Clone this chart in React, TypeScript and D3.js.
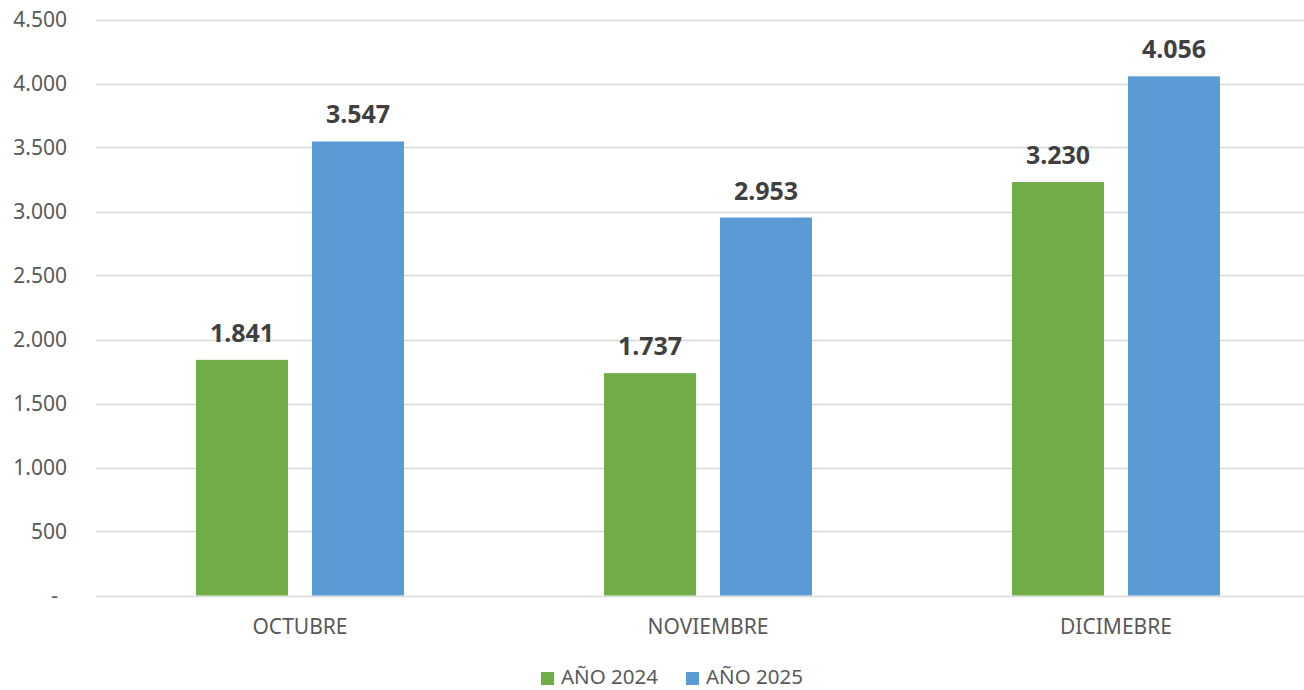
import React from "react";
import * as d3 from "d3";

const categories = ["OCTUBRE", "NOVIEMBRE", "DICIMEBRE"];
const seriesNames = ["AÑO 2024", "AÑO 2025"];
const values2024 = [1841, 1737, 3230];
const values2025 = [3547, 2953, 4056];
const yTicks = [0, 500, 1000, 1500, 2000, 2500, 3000, 3500, 4000, 4500];
const colors = ["#70AD47", "#5B9BD5"];

const W = 1304;
const H = 690;
const fmt = (v: number) => (v === 0 ? "-" : d3.format(",")(v).replace(/,/g, "."));

export default function App() {
  const left = 96;
  const right = 1320;
  const top = 19.5;
  const bottom = 595.5;
  const x0 = d3.scaleBand<string>().domain(categories).range([left, right]).padding(0);
  const groupW = 208;
  const x1 = d3
    .scaleBand<string>()
    .domain(seriesNames)
    .range([0, groupW])
    .paddingInner(24 / 116)
    .paddingOuter(0);
  const y = d3.scaleLinear().domain([0, 4500]).range([bottom, top]);
  const series = [values2024, values2025];
  const font = "'Noto Sans', 'Open Sans', sans-serif";

  return (
    <svg
      width={W}
      height={H}
      style={{ position: "absolute", left: 0, top: 0, background: "#fff" }}
      fontFamily={font}
    >
      {yTicks.map((t) => (
        <g key={t}>
          <line x1={left} x2={W} y1={Math.round(y(t)) + 0.5} y2={Math.round(y(t)) + 0.5} stroke="#D9D9D9" strokeWidth={1.5} />
          <text
            x={t === 0 ? 58 : 67}
            y={y(t)}
            dy="0.35em"
            textAnchor="end"
            fontSize={21}
            fill="#595959"
          >
            {fmt(t)}
          </text>
        </g>
      ))}
      {categories.map((c, i) => {
        const gx = (x0(c) as number) + (x0.bandwidth() - groupW) / 2;
        return (
          <g key={c}>
            {seriesNames.map((s, j) => {
              const v = series[j][i];
              const bx = gx + (x1(s) as number);
              return (
                <g key={s}>
                  <rect x={bx} y={y(v)} width={x1.bandwidth()} height={bottom - y(v)} fill={colors[j]} />
                  <text
                    x={bx + x1.bandwidth() / 2}
                    y={y(v) - 18}
                    textAnchor="middle"
                    fontSize={25}
                    fontWeight="bold"
                    fill="#404040"
                  >
                    {fmt(v)}
                  </text>
                </g>
              );
            })}
            <text
              x={(x0(c) as number) + x0.bandwidth() / 2}
              y={634}
              textAnchor="middle"
              fontSize={21}
              fill="#595959"
            >
              {c}
            </text>
          </g>
        );
      })}
      {seriesNames.map((s, j) => {
        const lx = j === 0 ? 541 : 686;
        return (
          <g key={s}>
            <rect x={lx} y={672} width={13} height={13} fill={colors[j]} />
            <text x={lx + 20} y={684} fontSize={20.5} fill="#595959">
              {s}
            </text>
          </g>
        );
      })}
    </svg>
  );
}
